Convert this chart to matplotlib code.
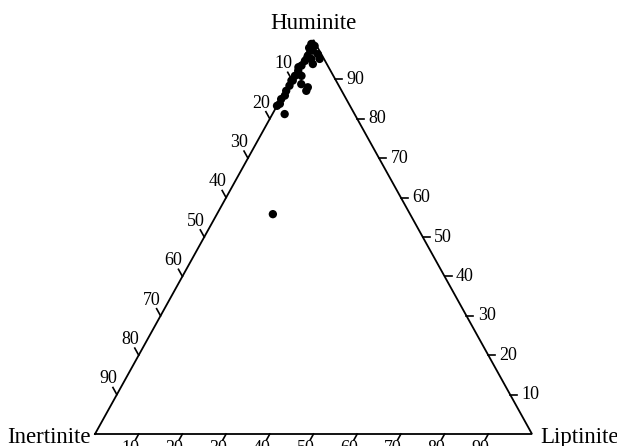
#!/usr/bin/env python

import matplotlib
matplotlib.use('Agg')
import matplotlib.pyplot as plt
import numpy as np


# maceral composition in % (huminite, inertinite, liptinite)
huminite = [99.0, 98.5, 98.0, 97.3, 96.4, 96.0, 95.2, 95.2, 94.7, 93.9,
            93.5, 93.1, 92.2, 90.9, 90.9, 89.7, 89.7, 88.8, 88.4, 88.0,
            87.1, 87.1, 85.9, 85.0, 83.8, 83.3, 81.2, 55.8]
inertinite = [1.0, 0.5, 2.0, 1.5, 0.8, 3.3, 1.0, 2.9, 4.6, 3.2,
              6.0, 6.9, 7.4, 8.8, 7.3, 9.9, 10.2, 8.4, 11.3, 7.3,
              8.1, 12.7, 13.6, 14.9, 15.8, 16.7, 16.0, 31.4]
liptinite = [0.0, 1.0, 0.0, 1.2, 2.8, 0.7, 3.8, 1.9, 0.7, 2.9,
             0.5, 0.0, 0.4, 0.3, 1.8, 0.4, 0.1, 2.8, 0.3, 4.7,
             4.8, 0.2, 0.5, 0.1, 0.4, 0.0, 2.8, 12.8]

tick_values = [10, 20, 30, 40, 50, 60, 70, 80, 90]
apex_labels = ['Huminite', 'Inertinite', 'Liptinite']


def to_xy(h, i, l):
    h = np.asarray(h, dtype=float)
    i = np.asarray(i, dtype=float)
    l = np.asarray(l, dtype=float)
    total = h + i + l
    x = (l + 0.5 * h) / total
    y = h / total
    return x, y


plt.rcParams['font.family'] = ['Liberation Serif', 'DejaVu Serif']

fig = plt.figure(figsize=(6.17, 4.46), dpi=100)
ax = fig.add_axes([95 / 617, 12 / 446, 437 / 617, 394 / 446])
ax.set_xlim(0, 1)
ax.set_ylim(0, 1)
ax.axis('off')

# triangle frame: Inertinite (bottom left), Liptinite (bottom right), Huminite (top)
fx, fy = to_xy([0, 0, 100, 0], [100, 0, 0, 100], [0, 100, 0, 0])
ax.plot(fx, fy, color='black', lw=1.3, clip_on=False, solid_joinstyle='miter')

tick_size = 13
for v in tick_values:
    # left edge: inertinite, ticks parallel to right edge
    bx, by = to_xy(100 - v, v, 0)
    d = np.array([-0.5, 1.0])
    ax.plot([bx, bx + 0.018 * d[0]], [by, by + 0.018 * d[1]],
            color='black', lw=1.2, clip_on=False)
    ax.text(bx + 0.040 * d[0], by + 0.040 * d[1], str(v), fontsize=tick_size,
            ha='center', va='center')

    # right edge: huminite, horizontal ticks
    bx, by = to_xy(v, 0, 100 - v)
    ax.plot([bx, bx + 0.016], [by, by], color='black', lw=1.2, clip_on=False)
    ax.text(bx + 0.026, by, str(v), fontsize=tick_size, ha='left', va='center')

    # bottom edge: liptinite, ticks parallel to left edge
    bx, by = to_xy(0, 100 - v, v)
    d = np.array([-0.5, -1.0])
    ax.plot([bx, bx + 0.015 * d[0]], [by, by + 0.015 * d[1]],
            color='black', lw=1.2, clip_on=False)
    ax.text(bx + 0.036 * d[0], by + 0.036 * d[1], str(v), fontsize=tick_size,
            ha='center', va='center')

ax.text(0.5, 1.027, apex_labels[0], fontsize=16.5, ha='center', va='baseline')
ax.text(-0.009, -0.023, apex_labels[1], fontsize=16.5, ha='right', va='baseline')
ax.text(1.02, -0.023, apex_labels[2], fontsize=16.5, ha='left', va='baseline')

px, py = to_xy(huminite, inertinite, liptinite)
ax.scatter(px, py, s=36, color='black', edgecolors='none', zorder=3, clip_on=False)

fig.savefig('out.png', dpi=100)
